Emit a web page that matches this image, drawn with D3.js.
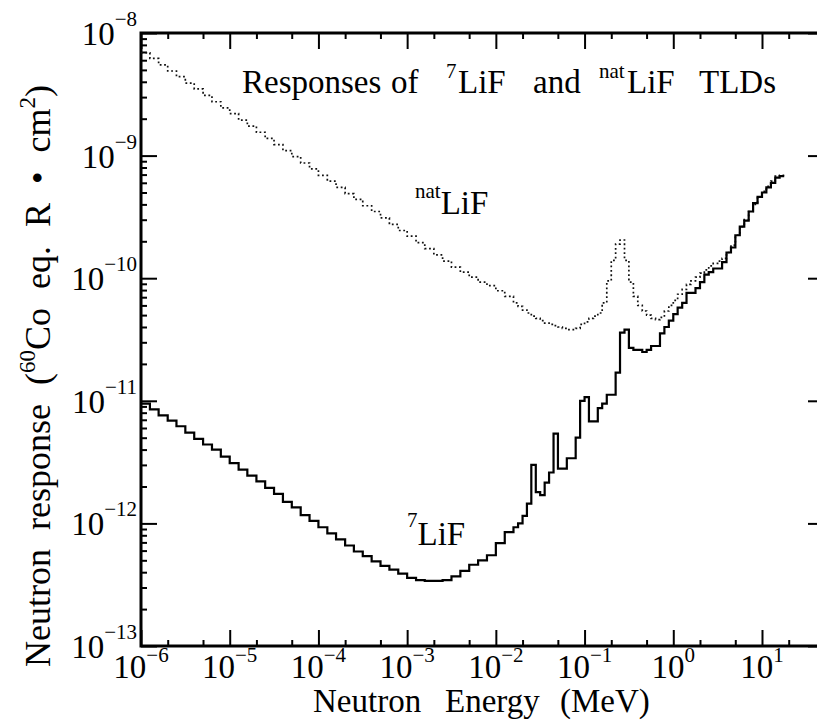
<!DOCTYPE html>
<html>
<head>
<meta charset="utf-8">
<script src="https://cdn.jsdelivr.net/npm/d3@7"></script>
<style>
	body { margin: 0; background: #fff; }
</style>
</head>
<body>
<svg id="chart" width="817" height="726"></svg>
<script>
// left edges of the energy bins (MeV), last entry closes the final bin
const binEdges = [
	1.00e-6, 1.26e-6, 1.58e-6, 2.00e-6, 2.51e-6, 3.16e-6, 3.98e-6, 5.01e-6, 6.31e-6, 7.94e-6,
	1.00e-5, 1.26e-5, 1.58e-5, 2.00e-5, 2.51e-5, 3.16e-5, 3.98e-5, 5.01e-5, 6.31e-5, 7.94e-5,
	1.00e-4, 1.26e-4, 1.58e-4, 2.00e-4, 2.51e-4, 3.16e-4, 3.98e-4, 5.01e-4, 6.31e-4, 7.94e-4,
	1.00e-3, 1.26e-3, 1.58e-3, 2.00e-3, 2.51e-3, 3.16e-3, 3.98e-3, 5.01e-3, 6.31e-3, 7.94e-3,
	1.00e-2, 1.26e-2,
	1.58e-2, 1.78e-2, 2.00e-2, 2.24e-2, 2.51e-2, 2.82e-2, 3.16e-2, 3.55e-2, 3.98e-2, 4.47e-2,
	5.01e-2, 5.62e-2, 6.31e-2, 7.08e-2, 7.94e-2, 8.91e-2,
	0.100, 0.112, 0.126, 0.141, 0.158, 0.178, 0.200, 0.224, 0.251, 0.282,
	0.316, 0.355, 0.398, 0.447, 0.501, 0.562, 0.631, 0.708, 0.794, 0.891,
	1.00, 1.12, 1.26, 1.41, 1.58, 1.78, 2.00, 2.24, 2.51, 2.82,
	3.16, 3.55, 3.98, 4.47, 5.01, 5.62, 6.31, 7.08, 7.94, 8.91,
	10.0, 11.2, 12.6, 14.1, 15.8,
	17.8
];

// 7LiF response per bin
const lif7 = [
	9.5e-12, 8.5e-12, 7.6e-12, 6.9e-12, 6.2e-12, 5.5e-12, 4.9e-12, 4.4e-12, 4.0e-12, 3.5e-12,
	3.1e-12, 2.75e-12, 2.45e-12, 2.2e-12, 1.95e-12, 1.74e-12, 1.5e-12, 1.35e-12, 1.17e-12, 1.05e-12,
	9.3e-13, 8.3e-13, 7.4e-13, 6.6e-13, 5.9e-13, 5.4e-13, 4.9e-13, 4.5e-13, 4.2e-13, 3.9e-13,
	3.6e-13, 3.45e-13, 3.4e-13, 3.4e-13, 3.45e-13, 3.7e-13, 4.1e-13, 4.6e-13, 5.0e-13, 5.5e-13,
	6.9e-13, 8.5e-13,
	9.3e-13, 1.0e-12, 1.15e-12, 1.45e-12, 3.0e-12, 1.8e-12, 1.7e-12, 2.15e-12, 2.6e-12, 5.4e-12,
	2.8e-12, 2.8e-12, 3.4e-12, 3.4e-12, 5.0e-12, 1.0e-11,
	1.07e-11, 6.8e-12, 6.8e-12, 8.7e-12, 9.5e-12, 1.12e-11, 1.12e-11, 1.7e-11, 3.6e-11, 3.8e-11,
	2.7e-11, 2.6e-11, 2.6e-11, 2.5e-11, 2.6e-11, 2.8e-11, 2.8e-11, 3.55e-11, 4.0e-11, 4.5e-11,
	5.1e-11, 5.75e-11, 6.3e-11, 7.6e-11, 7.6e-11, 8.3e-11, 9.3e-11, 1.07e-10, 1.12e-10, 1.2e-10,
	1.2e-10, 1.35e-10, 1.62e-10, 1.78e-10, 2.24e-10, 2.63e-10, 2.95e-10, 3.5e-10, 4.1e-10, 4.6e-10,
	5.0e-10, 5.5e-10, 6.0e-10, 6.6e-10, 6.8e-10
];

// natLiF response per bin
const natLif = [
	6.9e-9, 6.2e-9, 5.5e-9, 4.9e-9, 4.4e-9, 3.9e-9, 3.5e-9, 3.1e-9, 2.75e-9, 2.45e-9,
	2.2e-9, 1.95e-9, 1.74e-9, 1.55e-9, 1.38e-9, 1.23e-9, 1.1e-9, 9.8e-10, 8.7e-10, 7.8e-10,
	6.9e-10, 6.2e-10, 5.5e-10, 4.9e-10, 4.4e-10, 3.9e-10, 3.5e-10, 3.1e-10, 2.75e-10, 2.45e-10,
	2.2e-10, 1.95e-10, 1.74e-10, 1.55e-10, 1.38e-10, 1.23e-10, 1.12e-10, 1.02e-10, 9.3e-11, 8.7e-11,
	7.9e-11, 7.1e-11,
	6.3e-11, 5.9e-11, 5.5e-11, 5.2e-11, 4.9e-11, 4.7e-11, 4.5e-11, 4.3e-11, 4.2e-11, 4.1e-11,
	4.0e-11, 3.9e-11, 3.8e-11, 3.8e-11, 3.9e-11, 4.2e-11,
	4.4e-11, 4.7e-11, 4.9e-11, 5.2e-11, 6.3e-11, 9.5e-11, 1.4e-10, 1.9e-10, 2.05e-10, 1.4e-10,
	9.3e-11, 7.1e-11, 6.0e-11, 5.4e-11, 5.0e-11, 4.7e-11, 4.6e-11, 4.8e-11, 5.4e-11, 6.0e-11,
	6.6e-11, 7.4e-11, 8.1e-11, 8.9e-11, 9.5e-11, 1.02e-10, 1.1e-10, 1.17e-10, 1.26e-10, 1.32e-10,
	1.38e-10, 1.45e-10, 1.62e-10, 1.86e-10, 2.24e-10, 2.63e-10, 3.0e-10, 3.5e-10, 4.0e-10, 4.6e-10,
	5.1e-10, 5.6e-10, 6.2e-10, 6.8e-10, 6.9e-10
];

const xTickExps = [-6, -5, -4, -3, -2, -1, 0, 1];
const yTickExps = [-13, -12, -11, -10, -9, -8];
const xMinorTicks = [
	2e-6, 5e-6, 2e-5, 5e-5, 2e-4, 5e-4, 2e-3, 5e-3,
	2e-2, 5e-2, 2e-1, 5e-1, 2, 5, 20
];
const yMinorMult = [2, 3, 4, 5, 6, 7, 8, 9];

const serif = "'Liberation Serif', 'DejaVu Serif', serif";

const svg = d3.select("#chart");
svg.append("rect").attr("width", 817).attr("height", 726).attr("fill", "#fff");

const x = d3.scaleLog().domain([1e-6, 50]).range([141, 824]);
const y = d3.scaleLog().domain([1e-13, 1e-8]).range([646, 33]);

const xMajor = xTickExps.map(e => Math.pow(10, e));
const yMajor = yTickExps.map(e => Math.pow(10, e));
const yMinor = [];
yTickExps.slice(0, -1).forEach(e => yMinorMult.forEach(m => yMinor.push(m * Math.pow(10, e))));

function tickAxis(axis, pos, vals, size) {
	const g = svg.append("g")
		.attr("transform", pos)
		.call(axis.tickValues(vals).tickSize(-size).tickFormat(() => ""));
	g.select(".domain").remove();
	g.selectAll(".tick line").attr("stroke", "#000").attr("stroke-width", 2);
}

tickAxis(d3.axisBottom(x), "translate(0,646)", xMajor, 16);
tickAxis(d3.axisBottom(x), "translate(0,646)", xMinorTicks, 6);
tickAxis(d3.axisTop(x), "translate(0,33)", xMajor, 16);
tickAxis(d3.axisTop(x), "translate(0,33)", xMinorTicks, 6);
tickAxis(d3.axisLeft(y), "translate(141,0)", yMajor, 16);
tickAxis(d3.axisLeft(y), "translate(141,0)", yMinor, 6);
tickAxis(d3.axisRight(y), "translate(824,0)", yMajor, 16);
tickAxis(d3.axisRight(y), "translate(824,0)", yMinor, 6);

// frame
svg.append("rect")
	.attr("x", x(1e-6)).attr("y", y(1e-8))
	.attr("width", x(50) - x(1e-6)).attr("height", y(1e-13) - y(1e-8))
	.attr("fill", "none").attr("stroke", "#000").attr("stroke-width", 3);

// tick labels, 10 with a raised exponent
const xl = svg.append("g").selectAll("text").data(xTickExps).join("text")
	.attr("x", d => x(Math.pow(10, d)))
	.attr("y", 678)
	.attr("text-anchor", "middle")
	.attr("font-family", serif)
	.attr("font-size", 33);
xl.append("tspan").text("10");
xl.append("tspan").attr("dy", -16).attr("font-size", 21).text(d => String(d).replace("-", "\u2212"));

const yl = svg.append("g").selectAll("text").data(yTickExps).join("text")
	.attr("x", 137)
	.attr("y", d => y(Math.pow(10, d)) + 12)
	.attr("text-anchor", "end")
	.attr("font-family", serif)
	.attr("font-size", 33);
yl.append("tspan").text("10");
yl.append("tspan").attr("dy", -19).attr("font-size", 21).text(d => String(d).replace("-", "\u2212"));

// histogram lines
function stepPoints(vals) {
	const pts = vals.map((v, i) => [binEdges[i], v]);
	pts.push([binEdges[vals.length], vals[vals.length - 1]]);
	return pts;
}
const line = d3.line()
	.x(d => x(d[0]))
	.y(d => y(d[1]))
	.curve(d3.curveStepAfter);

svg.append("path")
	.attr("d", line(stepPoints(natLif)))
	.attr("fill", "none").attr("stroke", "#111")
	.attr("stroke-width", 1.7).attr("stroke-dasharray", "1.8,2.6");

svg.append("path")
	.attr("d", line(stepPoints(lif7)))
	.attr("fill", "none").attr("stroke", "#000")
	.attr("stroke-width", 2.2).attr("stroke-linejoin", "miter");

// title inside the frame, words placed like the original typesetting
const title = svg.append("text").attr("y", 93)
	.attr("font-family", serif).attr("font-size", 33);
title.append("tspan").attr("x", 242).text("Responses");
title.append("tspan").attr("x", 391).text("of");
title.append("tspan").attr("x", 446).attr("dy", -15).attr("font-size", 21).text("7");
title.append("tspan").attr("x", 458).attr("dy", 15).text("LiF");
title.append("tspan").attr("x", 533).text("and");
title.append("tspan").attr("x", 599).attr("dy", -15).attr("font-size", 21).text("nat");
title.append("tspan").attr("x", 627).attr("dy", 15).text("LiF");
title.append("tspan").attr("x", 699).text("TLDs");

// curve labels
const natLabel = svg.append("text").attr("x", 415).attr("y", 214)
	.attr("font-family", serif).attr("font-size", 33);
natLabel.append("tspan").attr("dy", -16).attr("font-size", 21).text("nat");
natLabel.append("tspan").attr("dy", 16).text("LiF");

const lif7Label = svg.append("text").attr("x", 407).attr("y", 545)
	.attr("font-family", serif).attr("font-size", 33);
lif7Label.append("tspan").attr("dy", -18).attr("font-size", 21).text("7");
lif7Label.append("tspan").attr("dy", 18).text("LiF");

// axis titles
const xTitle = svg.append("text").attr("y", 712)
	.attr("font-family", serif).attr("font-size", 33);
xTitle.append("tspan").attr("x", 313).text("Neutron");
xTitle.append("tspan").attr("x", 445).text("Energy");
xTitle.append("tspan").attr("x", 560).text("(MeV)");

const yTitle = svg.append("text")
	.attr("transform", "translate(50,667) rotate(-90)")
	.attr("font-family", serif)
	.attr("font-size", 36)
	.attr("word-spacing", 10)
	.attr("xml:space", "preserve");
yTitle.append("tspan").text("Neutron response (");
yTitle.append("tspan").attr("dy", -15).attr("font-size", 23).text("60");
yTitle.append("tspan").attr("dy", 15).text("Co eq. R \u2022 cm");
yTitle.append("tspan").attr("dy", -15).attr("font-size", 23).text("2");
yTitle.append("tspan").attr("dy", 15).text(")");
</script>
</body>
</html>
